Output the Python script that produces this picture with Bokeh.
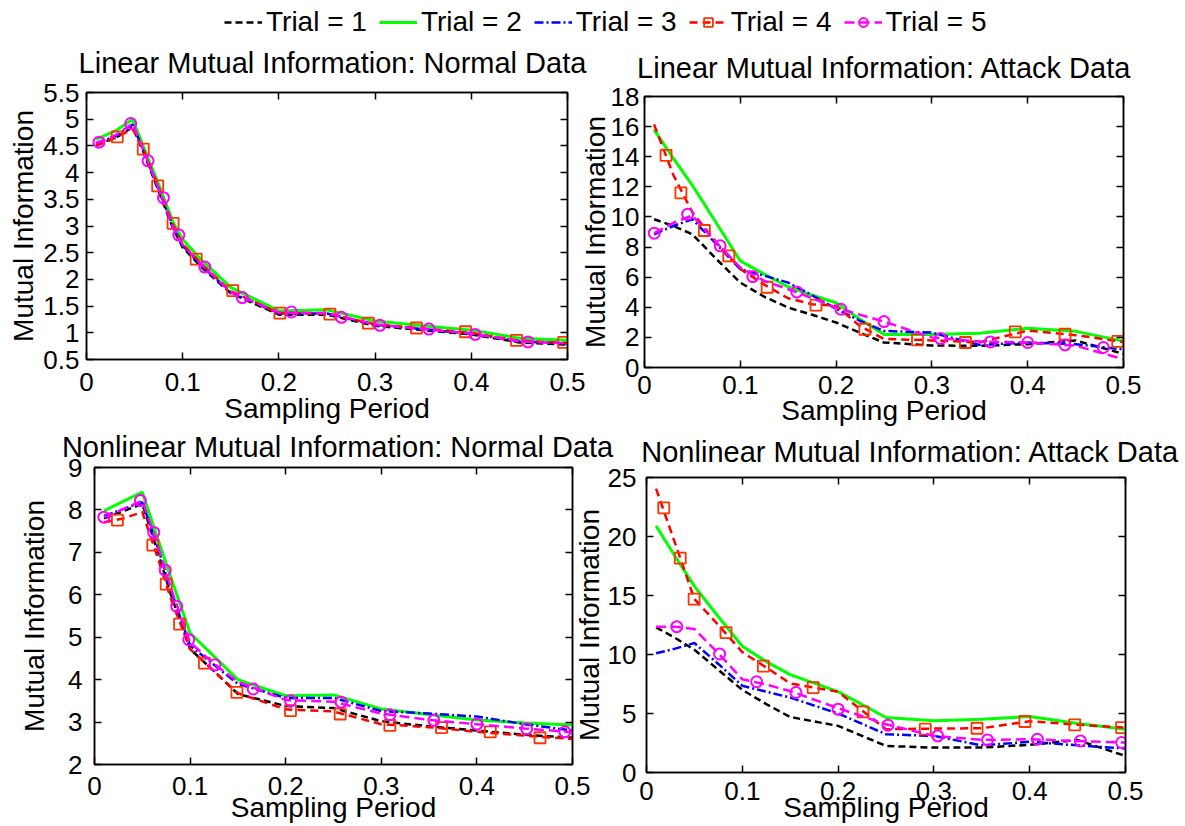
from bokeh.plotting import figure
from bokeh.layouts import column, row
from bokeh.models import (Range1d, FixedTicker, LinearAxis, Legend, LegendItem,
                          CustomLabelingPolicy)
from bokeh.embed import file_html
from bokeh.resources import INLINE

FONT = "Liberation Sans"

trial_labels = ["Trial = 1", "Trial = 2", "Trial = 3", "Trial = 4", "Trial = 5"]
x_axis_label = "Sampling Period"
y_axis_label = "Mutual Information"

x_ticks = [0, 0.1, 0.2, 0.3, 0.4, 0.5]
x_tick_labels = ["0", "0.1", "0.2", "0.3", "0.4", "0.5"]

# ---------------- Linear Mutual Information: Normal Data ----------------
ln_title = "Linear Mutual Information: Normal Data"
ln_x = [0.01, 0.03, 0.048, 0.06, 0.075, 0.09, 0.1, 0.12, 0.15, 0.2, 0.25, 0.3, 0.35, 0.4, 0.45, 0.5]
ln_t1 = [4.52, 4.65, 4.85, 4.35, 3.65, 2.95, 2.6, 2.22, 1.74, 1.34, 1.34, 1.13, 1.05, 0.97, 0.82, 0.78]
ln_t2 = [4.62, 4.78, 5.0, 4.45, 3.78, 3.07, 2.75, 2.35, 1.85, 1.41, 1.43, 1.22, 1.13, 1.05, 0.9, 0.86]
ln_t3 = [4.55, 4.68, 4.9, 4.38, 3.68, 2.98, 2.63, 2.25, 1.76, 1.36, 1.36, 1.15, 1.07, 0.98, 0.84, 0.8]
ln_t4 = [4.5, 4.65, 4.82, 4.4, 3.72, 3.02, 2.66, 2.28, 1.78, 1.37, 1.36, 1.16, 1.08, 1.0, 0.85, 0.81]
ln_t5 = [4.55, 4.7, 4.92, 4.38, 3.7, 2.98, 2.65, 2.27, 1.76, 1.38, 1.37, 1.16, 1.07, 0.99, 0.84, 0.8]
ln_t4_mx = [0.032, 0.059, 0.074, 0.090, 0.114, 0.152, 0.201, 0.253, 0.293, 0.343, 0.394, 0.447, 0.496]
ln_t4_my = [4.67, 4.44, 3.75, 3.05, 2.38, 1.79, 1.37, 1.35, 1.18, 1.09, 1.02, 0.86, 0.82]
ln_t5_mx = [0.013, 0.046, 0.064, 0.080, 0.096, 0.123, 0.162, 0.213, 0.265, 0.305, 0.356, 0.404, 0.459]
ln_t5_my = [4.57, 4.92, 4.22, 3.53, 2.83, 2.23, 1.66, 1.39, 1.29, 1.14, 1.07, 0.97, 0.83]
ln_y_range = (0.5, 5.5)
ln_y_ticks = [0.5, 1, 1.5, 2, 2.5, 3, 3.5, 4, 4.5, 5, 5.5]
ln_y_labels = ["0.5", "1", "1.5", "2", "2.5", "3", "3.5", "4", "4.5", "5", "5.5"]

# ---------------- Linear Mutual Information: Attack Data ----------------
la_title = "Linear Mutual Information: Attack Data"
la_x = [0.01, 0.03, 0.05, 0.075, 0.1, 0.125, 0.15, 0.175, 0.2, 0.225, 0.25, 0.3, 0.35, 0.4, 0.45, 0.5]
la_t1 = [9.85, 9.4, 8.85, 7.2, 5.64, 4.7, 3.98, 3.5, 2.99, 2.3, 1.66, 1.46, 1.44, 1.55, 1.8, 0.9]
la_t2 = [15.8, 13.9, 12.1, 9.6, 7.08, 6.2, 5.35, 4.8, 4.3, 3.2, 2.2, 2.2, 2.28, 2.6, 2.4, 1.75]
la_t3 = [8.85, 9.4, 9.85, 8.2, 6.53, 6.1, 5.64, 4.8, 3.9, 3.1, 2.43, 2.32, 1.5, 1.66, 1.55, 1.2]
la_t4 = [16.15, 12.8, 10.3, 8.3, 6.55, 5.5, 4.6, 4.2, 4.1, 2.75, 1.9, 1.8, 1.68, 2.45, 2.15, 1.7]
la_t5 = [8.92, 9.6, 10.1, 8.3, 6.64, 5.75, 5.2, 4.6, 3.98, 3.5, 3.05, 2.0, 1.72, 1.66, 1.45, 0.55]
la_t4_mx = [0.0225, 0.038, 0.0625, 0.088, 0.128, 0.179, 0.230, 0.285, 0.335, 0.387, 0.439, 0.494]
la_t4_my = [14.09, 11.6, 9.1, 7.41, 5.33, 4.14, 2.54, 1.84, 1.66, 2.37, 2.21, 1.73]
la_t5_mx = [0.0102, 0.045, 0.079, 0.113, 0.159, 0.205, 0.25, 0.309, 0.361, 0.4, 0.439, 0.479]
la_t5_my = [8.92, 10.18, 8.08, 6.04, 5.02, 3.87, 3.05, 1.92, 1.7, 1.66, 1.5, 1.33]
la_y_range = (0, 18)
la_y_ticks = [0, 2, 4, 6, 8, 10, 12, 14, 16, 18]
la_y_labels = ["0", "2", "4", "6", "8", "10", "12", "14", "16", "18"]

# ---------------- Nonlinear Mutual Information: Normal Data ----------------
nn_title = "Nonlinear Mutual Information: Normal Data"
nn_x = [0.01, 0.03, 0.05, 0.065, 0.08, 0.1, 0.125, 0.15, 0.2, 0.25, 0.3, 0.35, 0.4, 0.45, 0.5]
nn_t1 = [7.8, 7.97, 8.14, 7.1, 6.0, 4.72, 4.2, 3.66, 3.38, 3.33, 3.02, 2.9, 2.8, 2.7, 2.63]
nn_t2 = [7.98, 8.2, 8.42, 7.4, 6.4, 5.1, 4.55, 4.0, 3.62, 3.64, 3.31, 3.18, 3.05, 2.98, 2.93]
nn_t3 = [7.86, 8.02, 8.18, 7.2, 6.1, 4.8, 4.35, 3.9, 3.57, 3.57, 3.26, 3.2, 3.13, 2.95, 2.8]
nn_t4 = [7.71, 7.8, 7.95, 6.95, 5.9, 4.72, 4.2, 3.68, 3.3, 3.25, 2.95, 2.88, 2.77, 2.68, 2.6]
nn_t5 = [7.83, 8.02, 8.22, 7.25, 6.15, 4.88, 4.37, 3.95, 3.52, 3.48, 3.2, 3.05, 2.95, 2.85, 2.76]
nn_t4_mx = [0.024, 0.061, 0.075, 0.089, 0.115, 0.149, 0.205, 0.257, 0.309, 0.363, 0.414, 0.466]
nn_t4_my = [7.76, 7.17, 6.25, 5.31, 4.39, 3.7, 3.27, 3.19, 2.92, 2.87, 2.77, 2.63]
nn_t5_mx = [0.0098, 0.048, 0.062, 0.074, 0.086, 0.0986, 0.126, 0.166, 0.205, 0.258, 0.309, 0.355, 0.4, 0.452, 0.492]
nn_t5_my = [7.83, 8.22, 7.47, 6.58, 5.73, 4.94, 4.35, 3.78, 3.5, 3.47, 3.17, 3.04, 2.95, 2.84, 2.77]
nn_y_range = (2, 9)
nn_y_ticks = [2, 3, 4, 5, 6, 7, 8, 9]
nn_y_labels = ["2", "3", "4", "5", "6", "7", "8", "9"]

# ---------------- Nonlinear Mutual Information: Attack Data ----------------
na_title = "Nonlinear Mutual Information: Attack Data"
na_x = [0.01, 0.03, 0.05, 0.075, 0.1, 0.125, 0.15, 0.2, 0.25, 0.3, 0.35, 0.4, 0.45, 0.5]
na_t1 = [12.3, 11.4, 10.4, 8.7, 7.0, 5.8, 4.7, 3.95, 2.25, 2.11, 2.11, 2.35, 2.75, 1.4]
na_t2 = [20.9, 18.3, 15.8, 13.2, 10.7, 9.4, 8.3, 6.85, 4.66, 4.38, 4.52, 4.74, 4.15, 3.67]
na_t3 = [10.1, 10.5, 10.97, 9.2, 7.35, 6.85, 6.35, 5.0, 3.24, 3.1, 2.3, 2.6, 2.3, 2.03]
na_t4 = [24.05, 19.4, 14.7, 12.5, 10.2, 8.9, 7.55, 6.84, 3.67, 3.72, 3.75, 4.35, 4.05, 3.81]
na_t5 = [12.36, 12.36, 12.16, 10.1, 7.9, 7.45, 6.9, 5.45, 4.09, 3.1, 2.76, 2.82, 2.66, 2.54]
na_t4_mx = [0.018, 0.0352, 0.0497, 0.083, 0.122, 0.174, 0.226, 0.291, 0.345, 0.395, 0.447, 0.496]
na_t4_my = [22.43, 18.16, 14.7, 11.85, 9.02, 7.2, 5.14, 3.67, 3.75, 4.32, 4.04, 3.81]
na_t5_mx = [0.0316, 0.0763, 0.115, 0.156, 0.2, 0.252, 0.304, 0.356, 0.408, 0.453, 0.496]
na_t5_my = [12.36, 10.04, 7.69, 6.78, 5.37, 4.01, 3.1, 2.76, 2.82, 2.68, 2.54]
na_y_range = (0, 25)
na_y_ticks = [0, 5, 10, 15, 20, 25]
na_y_labels = ["0", "5", "10", "15", "20", "25"]

# ---------------- styles ----------------
STYLES = [
    dict(line_color="black", line_dash="7 4", line_width=2.5),
    dict(line_color="#00ff00", line_dash="solid", line_width=3),
    dict(line_color="#0000ff", line_dash="9 3 2 3", line_width=2.5),
    dict(line_color="#ff0000", line_dash="8 5", line_width=2.5),
    dict(line_color="#ff00ff", line_dash="10 5", line_width=2.5),
]
SQUARE = dict(marker="square", size=11, line_color="#ff3300", fill_color=None, line_width=1.8)
CIRCLE = dict(marker="circle", size=11, line_color="#ff00ff", fill_color=None, line_width=2)

TICK_FS = "26px"
LABEL_FS = "28px"
TITLE_FS = "29px"
LEGEND_FS = "28px"


def style_axis(ax, ticks, labels, standoff, label_standoff, text):
    ax.ticker = FixedTicker(ticks=ticks)
    ax.major_label_overrides = {t: l for t, l in zip(ticks, labels)}
    ax.major_tick_in = 7
    ax.major_tick_out = 0
    ax.minor_tick_line_color = None
    ax.axis_line_color = "black"
    ax.axis_line_width = 1.5
    ax.major_tick_line_color = "black"
    ax.major_tick_line_width = 1.5
    ax.major_label_text_font = FONT
    ax.major_label_text_font_size = TICK_FS
    ax.major_label_text_color = "black"
    ax.major_label_standoff = standoff
    ax.axis_label = text
    ax.axis_label_text_font = FONT
    ax.axis_label_text_font_size = LABEL_FS
    ax.axis_label_text_font_style = "normal"
    ax.axis_label_text_color = "black"
    ax.axis_label_standoff = label_standoff


def edge_axis(ticks):
    # box edge with inward ticks only, no labels
    return LinearAxis(ticker=FixedTicker(ticks=ticks), major_label_text_font_size="0px",
                      major_label_policy=CustomLabelingPolicy(code="return []"),
                      major_label_standoff=0, major_tick_in=7, major_tick_out=0,
                      minor_tick_line_color=None, axis_line_color="black", axis_line_width=1.5,
                      major_tick_line_width=1.5)


def panel(g, title, xs, series, m4, m5, yr, yticks, ylabels):
    p = figure(frame_width=g["fw"], frame_height=g["fh"],
               min_border_left=g["l"], min_border_right=g["r"],
               min_border_top=g["t"], min_border_bottom=g["b"],
               x_range=Range1d(0, 0.5), y_range=Range1d(*yr),
               output_backend="svg", toolbar_location=None)
    if "frame_align" in p.properties():
        p.frame_align = False
    p.xgrid.visible = False
    p.ygrid.visible = False
    p.outline_line_color = "black"
    p.outline_line_width = 1.5
    p.background_fill_color = "white"
    p.border_fill_color = None
    for i, ys in enumerate(series):
        p.line(xs, ys, **STYLES[i])
        if i == 3:
            p.scatter(m4[0], m4[1], **SQUARE)
        if i == 4:
            p.scatter(m5[0], m5[1], **CIRCLE)
    style_axis(p.xaxis[0], x_ticks, x_tick_labels, g["xstd"], g["xlab"], x_axis_label)
    style_axis(p.yaxis[0], yticks, ylabels, g["ystd"], g["ylab"], y_axis_label)
    p.add_layout(edge_axis(x_ticks), "above")
    p.add_layout(edge_axis(yticks), "right")
    p.title.text = title
    p.title.align = "left"
    p.title.offset = g["toff"]
    p.title.standoff = g["tst"]
    p.title.text_font = FONT
    p.title.text_font_size = TITLE_FS
    p.title.text_font_style = "normal"
    p.title.text_color = "black"
    if "ml" in g:
        p.margin = (0, 0, 0, g["ml"])
    return p


G1 = dict(fw=481, fh=267, l=86, r=24, t=70, b=68, ystd=7, ylab=1, xstd=13, xlab=-1, tst=28, toff=-7.9)
G2 = dict(fw=479, fh=271, l=69, r=62, t=74, b=62, ystd=5, ylab=-3, xstd=8, xlab=-2, tst=26, toff=-7.4, ml=-16)
G3 = dict(fw=478, fh=297, l=94, r=42, t=52, b=62, ystd=12, ylab=15, xstd=12, xlab=-6, tst=10, toff=-32.6)
G4 = dict(fw=479, fh=295, l=80, r=60, t=62, b=54, ystd=10, ylab=0, xstd=9, xlab=-11, tst=20, toff=-5.2, ml=-48)

p1 = panel(G1, ln_title, ln_x, [ln_t1, ln_t2, ln_t3, ln_t4, ln_t5],
           (ln_t4_mx, ln_t4_my), (ln_t5_mx, ln_t5_my), ln_y_range, ln_y_ticks, ln_y_labels)
p2 = panel(G2, la_title, la_x, [la_t1, la_t2, la_t3, la_t4, la_t5],
           (la_t4_mx, la_t4_my), (la_t5_mx, la_t5_my), la_y_range, la_y_ticks, la_y_labels)
p3 = panel(G3, nn_title, nn_x, [nn_t1, nn_t2, nn_t3, nn_t4, nn_t5],
           (nn_t4_mx, nn_t4_my), (nn_t5_mx, nn_t5_my), nn_y_range, nn_y_ticks, nn_y_labels)
p4 = panel(G4, na_title, na_x, [na_t1, na_t2, na_t3, na_t4, na_t5],
           (na_t4_mx, na_t4_my), (na_t5_mx, na_t5_my), na_y_range, na_y_ticks, na_y_labels)

# ---------------- shared legend strip ----------------
leg = figure(width=1185, height=38, x_range=Range1d(1, 2), y_range=Range1d(0, 1),
             output_backend="svg", toolbar_location=None, min_border=0,
             x_axis_type=None, y_axis_type=None)
if "frame_align" in leg.properties():
    leg.frame_align = False
leg.outline_line_color = None
leg.border_fill_color = None
leg.background_fill_color = None
items = []
ln_series = [ln_t1, ln_t2, ln_t3, ln_t4, ln_t5]
for i, ys in enumerate(ln_series):
    rs = [leg.line(ln_x, ys, **STYLES[i])]
    if i == 3:
        rs.append(leg.scatter(ln_t4_mx, ln_t4_my, **SQUARE))
    if i == 4:
        rs.append(leg.scatter(ln_t5_mx, ln_t5_my, **CIRCLE))
    items.append(LegendItem(label=trial_labels[i], renderers=rs))
legend = Legend(items=items, orientation="horizontal", location=(224, 0),
                glyph_width=38, glyph_height=22, label_standoff=4, spacing=12,
                padding=0, margin=0, border_line_color=None, background_fill_alpha=0,
                label_text_font=FONT, label_text_font_size=LEGEND_FS, label_text_color="black")
leg.add_layout(legend, "center")

row1 = row(p1, p2)
row1.margin = (-16, 0, 0, 0)
row2 = row(p3, p4)
row2.margin = (-14, 0, 0, 0)
layout = column(leg, row1, row2)

open("out.html", "w").write(file_html(layout, INLINE))
